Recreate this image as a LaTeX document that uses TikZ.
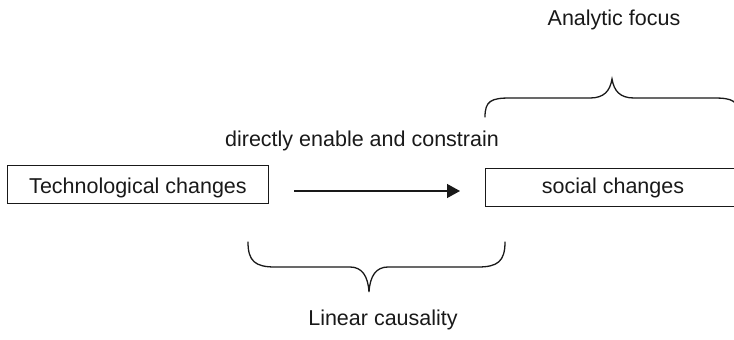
\documentclass[tikz,border=0pt]{standalone}
\usepackage{fontspec}
\setmainfont{Liberation Sans}
\usetikzlibrary{arrows.meta,calc}
\definecolor{ink}{RGB}{25,25,25}
\begin{document}
\begin{tikzpicture}[x=1pt,y=-1pt,
  every node/.style={font=\fontsize{21.5}{24}\selectfont, text=ink},
  boxnode/.style={draw=ink, line width=1.3pt, inner sep=0pt, anchor=north west},
  lbl/.style={anchor=base, inner sep=0pt},
  brace/.style={draw=ink, line width=1.3pt, line cap=round},
  conn/.style={draw=ink, line width=1.3pt, -{Triangle[length=13pt,width=14pt]}}]
\useasboundingbox (0,0) rectangle (734,340);
% boxes
\node[boxnode, minimum width=261pt, minimum height=38pt] (tech) at (7,165) {};
\node[lbl] at (138,193) {Technological changes};
\node[boxnode, minimum width=262pt, minimum height=38pt] (soc) at (485,168) {};
\node[lbl] at (613,193) {social changes};
% arrow
\coordinate (a1) at ($(tech.north east)+(25,26)$);
\coordinate (a2) at ($(soc.north west)+(-25,23)$);
\draw[conn] (a1) -- (a2);
% labels
\node[lbl] (dir) at (362,146) {directly enable and constrain};
\node[lbl] (ana) at (614,25) {Analytic focus};
\node[lbl] (lin) at (383,325) {Linear causality};
% top brace
\draw[brace] (485,117) .. controls (485,101) and (491,98) .. (510,98) -- (590,98)
  .. controls (604,98) and (610,91) .. (612,79)
  .. controls (614,91) and (620,98) .. (634,98) -- (714,98)
  .. controls (733,98) and (739,101) .. (739,117);
% bottom brace
\draw[brace] (248,242) .. controls (248,261) and (255,267) .. (275,267) -- (350,267)
  .. controls (362,267) and (368,276) .. (369,292)
  .. controls (370,276) and (376,267) .. (388,267) -- (478,267)
  .. controls (498,267) and (505,261) .. (505,242);
\end{tikzpicture}
\end{document}
